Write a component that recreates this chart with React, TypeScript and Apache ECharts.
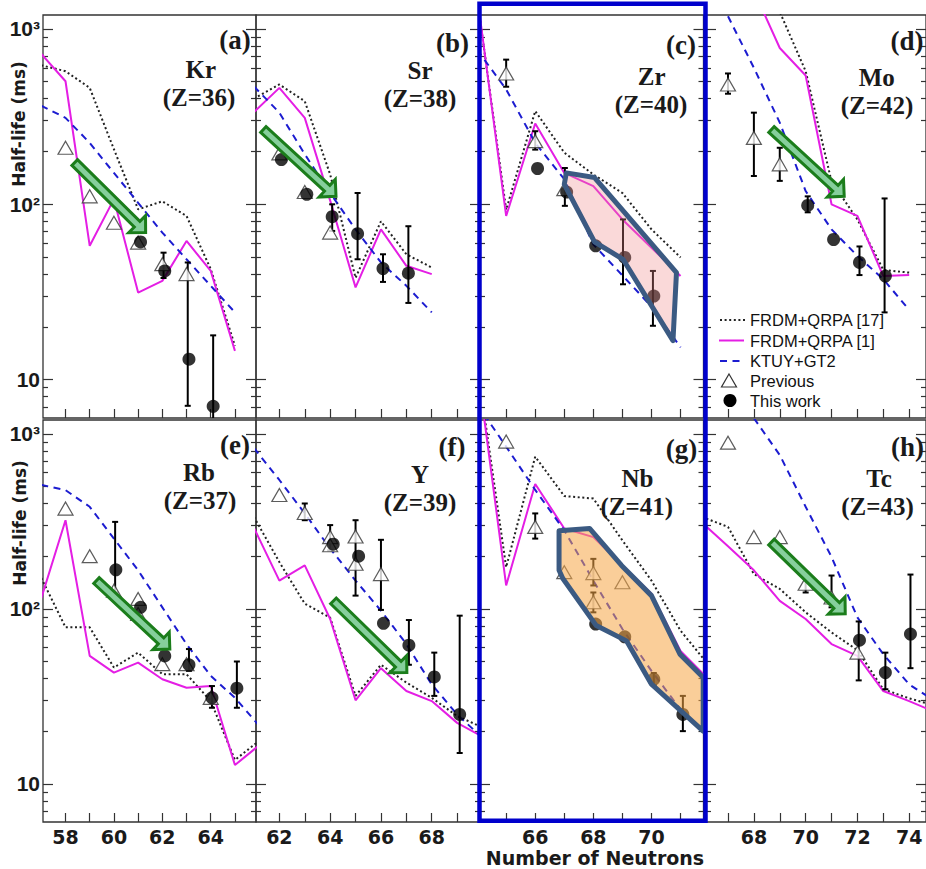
import React, { useEffect, useRef } from "react";
import * as echarts from "echarts";

// ---------------- data (N, half-life in ms) ----------------
// (a) Kr
const KR_FRDM17 = [[57, 620], [58, 574], [59, 461], [60, 206], [61, 93.6], [62, 104], [63, 85.8], [64, 42.7], [65, 15.6]];
const KR_FRDM1 = [[57, 720], [58, 503], [59, 58], [60, 107], [61, 31.4], [62, 36.6], [63, 61.8], [64, 41.7], [65, 14.6]];
const KR_KTUY = [[57, 365], [58, 311], [59, 224], [60, 151], [61, 102], [62, 69], [63, 48.6], [64, 34.3], [65, 24.2]];
const KR_PREV = [[58, 210], [59, 111], [60, 78.5], [61, 60.5], [62, 45.6], [63, 40]];
const KR_THIS = [[61.1, 61], [62.1, 41.7], [63.1, 13.1], [64.1, 7.05]];
const KR_ERR = [[62.05, 38, 53], [63.05, 7.1, 46.6], [64.1, 5, 17.9]];
const KR_ARROW = [58.38, 173, 61.31, 69];

// (b) Sr
const SR_FRDM17 = [[61, 400], [62, 482], [63, 387], [64, 148], [65, 38.1], [66, 80], [67, 51.9], [68, 43.6]];
const SR_FRDM1 = [[61, 335], [62, 461], [63, 311], [64, 105], [65, 33.6], [66, 72], [67, 44.6], [68, 40]];
const SR_KTUY = [[61, 470], [62, 333], [63, 193], [64, 116], [65, 72], [66, 46.6], [67, 34.3], [68, 24.2]];
const SR_PREV = [[62, 195], [63, 117.5], [64, 69]];
const SR_THIS = [[62.08, 180], [63.08, 114], [64.08, 85], [65.08, 68], [66.08, 43], [67.08, 40.5]];
const SR_ERR = [[64.08, 70.5, 100], [65.08, 48.6, 116], [66.08, 36.1, 51.9], [67.08, 27.4, 75]];
const SR_ARROW = [61.37, 267, 64.23, 111];

// (c) Zr
const ZR_FRDM17 = [[64, 1500], [65, 93], [66, 340], [67, 197], [68, 148], [69, 116], [70, 72], [71, 49.8]];
const ZR_FRDM1 = [[64, 1550], [65, 85.8], [66, 289], [67, 151], [68, 127], [69, 82], [70, 56.6], [71, 39]];
const ZR_KTUY = [[64, 760], [65, 452], [66, 224], [67, 139], [68, 59], [69, 39.3], [70, 26.1], [71, 15.3]];
const ZR_PREV = [[65, 557], [66, 229], [67, 122]];
const ZR_THIS = [[66.08, 160], [67.08, 117.5], [68.08, 58], [69.08, 49.8], [70.08, 30]];
const ZR_ERR = [[65, 468, 668], [66, 205, 261], [67.02, 98, 161], [69.02, 35, 82], [70.05, 20.3, 41.7]];
const ZR_REGION = [[67.07, 151], [68.04, 142], [70.86, 40.8], [70.74, 16.7], [69.02, 48.6], [68.04, 61], [67.0, 130]];

// (d) Mo
const MO_FRDM17 = [[68, 2500], [69, 1250], [70, 574], [71, 135], [72, 82], [73, 42.3], [74, 40.8]];
const MO_FRDM1 = [[68, 1650], [69, 778], [70, 542], [71, 100], [72, 86], [73, 39], [74, 39.5]];
const MO_KTUY = [[67, 1180], [68, 600], [69, 292], [70, 119], [71, 72], [72, 50.8], [73, 37.4], [74, 25]];
const MO_PREV = [[67, 482], [68, 239], [69, 169]];
const MO_THIS = [[70.08, 98.6], [71.08, 63], [72.08, 46.6], [73.08, 39]];
const MO_ERR = [[67, 427, 557], [68, 145, 333], [69, 136, 210], [70.08, 90, 111], [72.08, 39.5, 57.5], [73.05, 24.2, 108]];
const MO_ARROW = [68.68, 267, 71.49, 111];

// (e) Rb
const RB_FRDM17 = [[57, 150], [58, 78.4], [59, 78.4], [60, 46.2], [61, 56.2], [62, 42.3], [63, 42.3], [64, 29.7], [65, 13.7], [66, 17.6]];
const RB_FRDM1 = [[57, 115], [58, 321], [59, 53.8], [60, 43.2], [61, 49.3], [62, 39.6], [63, 35.4], [64, 36.2], [65, 12.8], [66, 16.6]];
const RB_KTUY = [[57, 511], [58, 477], [59, 383], [60, 252], [61, 166], [62, 102], [63, 62.8], [64, 41.4], [65, 31], [66, 21.5]];
const RB_PREV = [[58, 374], [59, 200], [60, 127], [61, 114], [61, 93.5], [62, 48.3], [63, 48.3], [64, 31]];
const RB_THIS = [[60.08, 167], [61.1, 102], [62.1, 53.8], [63.1, 47.9], [64.05, 31], [65.08, 35.2]];
const RB_ERR = [[60.05, 124, 314], [63.1, 44.2, 58.9], [64.05, 27.2, 36.2], [65.08, 27.2, 50]];
const RB_ARROW = [59.28, 145, 62.31, 58.9];

// (f) Y
const Y_FRDM17 = [[61, 335], [62, 185], [63, 107], [64, 89], [65, 31.8], [66, 47.9], [67, 37.9], [68, 31], [69, 24.4], [70, 21]];
const Y_FRDM1 = [[61, 290], [62, 145], [63, 177], [64, 87.5], [65, 30], [66, 45.8], [67, 33.9], [68, 29.7], [69, 22.3], [70, 18.6]];
const Y_KTUY = [[61, 830], [62, 545], [63, 351], [64, 221], [65, 145], [66, 97.7], [67, 62.9], [68, 37], [69, 24.9], [70, 18.3]];
const Y_PREV = [[62, 447], [63, 353], [64, 257], [64, 231], [65, 259], [65, 181], [66, 158]];
const Y_THIS = [[64.12, 234], [65.12, 200], [66.1, 82.6], [67.1, 62], [68.1, 40.8], [69.1, 24.9]];
const Y_ERR = [[63, 321, 400], [64, 216, 301], [65, 119, 321], [66, 98.6, 248], [67.1, 47.9, 86.3], [68.1, 31.8, 56.2], [69.1, 15, 91.4]];
const Y_ARROW = [64.13, 111, 67.02, 43.2];

// (g) Nb
const NB_FRDM17 = [[64, 2500], [65, 173], [66, 741], [67, 441], [68, 427], [69, 246], [70, 145], [71, 75], [72, 47]];
const NB_FRDM1 = [[64, 2500], [65, 136], [66, 517], [67, 288], [68, 257], [69, 177], [70, 122], [71, 57.5], [72, 39]];
const NB_KTUY = [[64, 1480], [65, 845], [66, 478], [67, 281], [68, 145], [69, 76.7], [70, 44.2], [71, 26.6], [72, 18]];
const NB_PREV = [[65, 903], [66, 294], [67, 162], [68, 160], [68, 109], [69, 142]];
const NB_THIS = [[68.08, 81.9], [69.08, 69.2], [70.08, 39.6], [71.08, 24.9]];
const NB_ERR = [[66, 252, 351], [68, 136, 193], [68, 95.5, 124], [70.08, 36.5, 43], [71.08, 20, 31.8]];
const NB_REGION = [[66.82, 279], [67.87, 288], [68.97, 177], [70.0, 119], [70.98, 55.1], [71.78, 40.5], [71.78, 20], [70.0, 37.1], [69.14, 65.6], [68.1, 80.2], [66.95, 149], [66.82, 166]];

// (h) Tc
const TC_FRDM17 = [[66, 335], [67, 294], [68, 158], [69, 130], [70, 95.5], [71, 73.3], [72, 58], [73, 34.7], [74, 30.8], [75, 28]];
const TC_FRDM1 = [[66, 310], [67, 228], [68, 166], [69, 111], [70, 87.5], [71, 62.9], [72, 53.8], [73, 33.9], [74, 29.7], [75, 25.7]];
const TC_KTUY = [[68, 1230], [69, 757], [70, 383], [71, 198], [72, 89.3], [73, 55], [74, 37], [75, 29.7]];
const TC_PREV = [[67, 891], [68, 257], [69, 257], [70, 139], [71, 116], [72, 56.2]];
const TC_THIS = [[72.08, 66.2], [73.08, 43.2], [74.05, 71.8]];
const TC_ERR = [[70, 124, 152], [71, 102, 155], [72.05, 39, 84.7], [73.08, 34.7, 56.2], [74.05, 45.8, 157]];
const TC_ARROW = [68.68, 241, 71.53, 93.6];

// axes
const COL_X_RANGE = [[57.07, 65.87], [61.08, 69.9], [64.1, 71.79], [66.15, 74.65]];
const Y_RANGE = [6.05, 1200];
const Y_MAJOR = [10, 100, 1000];
const Y_MINOR = [7, 8, 9, 20, 30, 40, 50, 60, 70, 80, 90, 200, 300, 400, 500, 600, 700, 800, 900];
const LEGEND_NAMES = ["FRDM+QRPA [17]", "FRDM+QRPA [1]", "KTUY+GT2", "Previous", "This work"];

// layout (pixels)
const COL_LEFT = [43, 256, 480, 706];
const COL_WIDTH = [213, 224, 223.5, 220];
const ROW_TOP = [15, 420];
const ROW_HEIGHT = [403, 402];

const C_DOT = "#222222";
const C_MAG = "#e41ee4";
const C_BLUE = "#1c1cd0";

const PANELS = [
  { row: 0, col: 0, frdm17: KR_FRDM17, frdm1: KR_FRDM1, ktuy: KR_KTUY, prev: KR_PREV, cur: KR_THIS, err: KR_ERR, arrow: KR_ARROW, region: null as any, fill: "", tag: "(a)", el: "Kr", z: "(Z=36)", tagP: [235, 39.5], elP: [200.7, 71], zP: [199, 96] },
  { row: 0, col: 1, frdm17: SR_FRDM17, frdm1: SR_FRDM1, ktuy: SR_KTUY, prev: SR_PREV, cur: SR_THIS, err: SR_ERR, arrow: SR_ARROW, region: null as any, fill: "", tag: "(b)", el: "Sr", z: "(Z=38)", tagP: [452.5, 43], elP: [420, 73], zP: [420, 96] },
  { row: 0, col: 2, frdm17: ZR_FRDM17, frdm1: ZR_FRDM1, ktuy: ZR_KTUY, prev: ZR_PREV, cur: ZR_THIS, err: ZR_ERR, arrow: null as any, region: ZR_REGION, fill: "rgba(240,140,140,0.33)", tag: "(c)", el: "Zr", z: "(Z=40)", tagP: [681, 44.5], elP: [651.7, 79], zP: [651, 102] },
  { row: 0, col: 3, frdm17: MO_FRDM17, frdm1: MO_FRDM1, ktuy: MO_KTUY, prev: MO_PREV, cur: MO_THIS, err: MO_ERR, arrow: MO_ARROW, region: null as any, fill: "", tag: "(d)", el: "Mo", z: "(Z=42)", tagP: [907, 41], elP: [876.7, 79], zP: [877, 103] },
  { row: 1, col: 0, frdm17: RB_FRDM17, frdm1: RB_FRDM1, ktuy: RB_KTUY, prev: RB_PREV, cur: RB_THIS, err: RB_ERR, arrow: RB_ARROW, region: null as any, fill: "", tag: "(e)", el: "Rb", z: "(Z=37)", tagP: [235, 445], elP: [199, 473.3], zP: [200, 499.5] },
  { row: 1, col: 1, frdm17: Y_FRDM17, frdm1: Y_FRDM1, ktuy: Y_KTUY, prev: Y_PREV, cur: Y_THIS, err: Y_ERR, arrow: Y_ARROW, region: null as any, fill: "", tag: "(f)", el: "Y", z: "(Z=39)", tagP: [452, 447], elP: [420, 476], zP: [420, 500] },
  { row: 1, col: 2, frdm17: NB_FRDM17, frdm1: NB_FRDM1, ktuy: NB_KTUY, prev: NB_PREV, cur: NB_THIS, err: NB_ERR, arrow: null as any, region: NB_REGION, fill: "rgba(245,165,70,0.55)", tag: "(g)", el: "Nb", z: "(Z=41)", tagP: [681.5, 449], elP: [637.5, 480], zP: [636.7, 505] },
  { row: 1, col: 3, frdm17: TC_FRDM17, frdm1: TC_FRDM1, ktuy: TC_KTUY, prev: TC_PREV, cur: TC_THIS, err: TC_ERR, arrow: TC_ARROW, region: null as any, fill: "", tag: "(h)", el: "Tc", z: "(Z=43)", tagP: [907.5, 447], elP: [879, 479], zP: [877.5, 505] },
];

function serifText(text: string, x: number, y: number, size: number) {
  return {
    type: "text",
    x,
    y,
    z: 50,
    style: {
      text,
      font: `bold ${size}px "Liberation Serif"`,
      fill: "#1a1a1a",
      textAlign: "center",
      textVerticalAlign: "middle",
      align: "center",
      verticalAlign: "middle",
    },
  };
}

function buildOption() {
  const grid: any[] = [];
  const xAxis: any[] = [];
  const yAxis: any[] = [];
  const series: any[] = [];
  const graphic: any[] = [];
  const tickStyle = { color: "#333", width: 1.2 };

  PANELS.forEach((p, gi) => {
    grid.push({
      left: COL_LEFT[p.col],
      top: ROW_TOP[p.row],
      width: COL_WIDTH[p.col],
      height: ROW_HEIGHT[p.row],
      show: true,
      borderColor: "#333",
      borderWidth: 1.3,
      backgroundColor: "transparent",
    });
    const [xmin, xmax] = COL_X_RANGE[p.col];
    const ints: number[] = [];
    for (let n = Math.ceil(xmin); n <= Math.floor(xmax); n++) ints.push(n);
    xAxis.push({
      type: "value",
      gridIndex: gi,
      position: "bottom",
      min: xmin,
      max: xmax,
      axisLine: { show: false, onZero: false },
      splitLine: { show: false },
      axisTick: { show: true, inside: true, length: 9, customValues: ints, lineStyle: tickStyle },
      axisLabel: {
        show: p.row === 1,
        customValues: ints.filter((n) => n % 2 === 0),
        margin: 5,
        fontFamily: "DejaVu Sans",
        fontWeight: "bold",
        fontSize: 19,
        color: "#1a1a1a",
        formatter: (v: number) => String(Math.round(v)),
      },
    });
    const yi = yAxis.length;
    const base = {
      type: "log",
      logBase: 10,
      gridIndex: gi,
      min: Y_RANGE[0],
      max: Y_RANGE[1],
      axisLine: { show: false, onZero: false },
      splitLine: { show: false },
    };
    yAxis.push({
      ...base,
      position: "left",
      axisTick: { show: true, inside: true, length: 10, customValues: Y_MAJOR, lineStyle: tickStyle },
      axisLabel: {
        show: p.col === 0,
        customValues: Y_MAJOR,
        margin: 3,
        fontFamily: "Liberation Sans",
        fontWeight: "bold",
        fontSize: 21,
        color: "#1a1a1a",
        formatter: (v: number) => {
          const e = Math.round(Math.log10(v));
          return e === 3 ? "10³" : e === 2 ? "10²" : "10";
        },
      },
    });
    yAxis.push({
      ...base,
      position: "left",
      axisTick: { show: true, inside: true, length: 5, customValues: Y_MINOR, lineStyle: tickStyle },
      axisLabel: { show: false },
    });
    yAxis.push({
      ...base,
      position: "right",
      axisTick: { show: true, inside: true, length: 10, customValues: Y_MAJOR, lineStyle: tickStyle },
      axisLabel: { show: false },
    });
    yAxis.push({
      ...base,
      position: "right",
      axisTick: { show: true, inside: true, length: 5, customValues: Y_MINOR, lineStyle: tickStyle },
      axisLabel: { show: false },
    });

    const common = { xAxisIndex: gi, yAxisIndex: yi, silent: true };
    series.push({ ...common, type: "line", name: LEGEND_NAMES[0], data: p.frdm17, symbol: "none", clip: true, z: 2, lineStyle: { color: C_DOT, width: 2, type: [2, 2.6] } });
    series.push({ ...common, type: "line", name: LEGEND_NAMES[1], data: p.frdm1, symbol: "none", clip: true, z: 2, lineStyle: { color: C_MAG, width: 2 } });
    series.push({ ...common, type: "line", name: LEGEND_NAMES[2], data: p.ktuy, symbol: "none", clip: true, z: 2, lineStyle: { color: C_BLUE, width: 2, type: [7, 5.5] } });
    series.push({
      ...common,
      type: "custom",
      name: "err",
      data: p.err,
      clip: true,
      z: 3,
      encode: { x: 0, y: [1, 2] },
      renderItem: (params: any, api: any) => {
        const x = api.value(0);
        const p1 = api.coord([x, api.value(1)]);
        const p2 = api.coord([x, api.value(2)]);
        const c = 3;
        const st = { stroke: "#000", lineWidth: 2 };
        return {
          type: "group",
          children: [
            { type: "line", shape: { x1: p1[0], y1: p1[1], x2: p2[0], y2: p2[1] }, style: st },
            { type: "line", shape: { x1: p1[0] - c, y1: p1[1], x2: p1[0] + c, y2: p1[1] }, style: st },
            { type: "line", shape: { x1: p2[0] - c, y1: p2[1], x2: p2[0] + c, y2: p2[1] }, style: st },
          ],
        };
      },
    });
    series.push({ ...common, type: "scatter", name: LEGEND_NAMES[3], data: p.prev, symbol: "triangle", symbolSize: [15, 13], z: 3, itemStyle: { color: "#ffffff", borderColor: "#333", borderWidth: 1.2 } });
    series.push({ ...common, type: "scatter", name: LEGEND_NAMES[4], data: p.cur, symbol: "circle", symbolSize: 13, z: 4, itemStyle: { color: "#000000" } });

    if (p.region) {
      const region = p.region;
      const fill = p.fill;
      series.push({
        ...common,
        type: "custom",
        name: "region",
        data: region,
        clip: true,
        z: 5,
        renderItem: (params: any, api: any) => {
          if (params.dataIndex !== 0) return null;
          const pts = region.map((q: number[]) => api.coord(q));
          return { type: "polygon", shape: { points: pts }, style: { fill, stroke: "#3b5a82", lineWidth: 5, lineJoin: "round" } };
        },
      });
    }
    if (p.arrow) {
      series.push({
        ...common,
        type: "custom",
        name: "arrow",
        data: [p.arrow],
        clip: false,
        z: 6,
        encode: { x: [0, 2], y: [1, 3] },
        renderItem: (params: any, api: any) => {
          const s = api.coord([api.value(0), api.value(1)]);
          const t = api.coord([api.value(2), api.value(3)]);
          const dx = t[0] - s[0];
          const dy = t[1] - s[1];
          const L = Math.hypot(dx, dy);
          const ux = dx / L, uy = dy / L;
          const nx = -uy, ny = ux;
          const w = 4, hw = 12, hl = 12;
          const bx = t[0] - ux * hl, by = t[1] - uy * hl;
          const pts = [
            [s[0] + nx * w, s[1] + ny * w],
            [bx + nx * w, by + ny * w],
            [bx + nx * hw, by + ny * hw],
            [t[0], t[1]],
            [bx - nx * hw, by - ny * hw],
            [bx - nx * w, by - ny * w],
            [s[0] - nx * w, s[1] - ny * w],
          ];
          return { type: "polygon", shape: { points: pts }, style: { fill: "#86cf9c", stroke: "#1b7d1b", lineWidth: 3, lineJoin: "miter" } };
        },
      });
    }

    graphic.push(serifText(p.tag, p.tagP[0], p.tagP[1], 27));
    // element symbol and (Z=..): keep the midpoint, space the two lines so they do not overlap
    const mid = (p.elP[1] + p.zP[1]) / 2;
    graphic.push(serifText(p.el, p.elP[0], mid - 14, 25));
    graphic.push(serifText(p.z, p.zP[0], mid + 14, 25));
  });

  // axis titles
  const axisFont = 'bold 17px "DejaVu Sans"';
  [124, 523].forEach((yc, i) => {
    graphic.push({
      type: "text",
      x: i === 0 ? 18.5 : 19.5,
      y: yc,
      rotation: Math.PI / 2,
      style: { text: "Half-life (ms)", font: axisFont, fill: "#1a1a1a", textAlign: "center", textVerticalAlign: "middle", align: "center", verticalAlign: "middle" },
    });
  });
  graphic.push({
    type: "text",
    x: 595,
    y: 858,
    style: { text: "Number of Neutrons", font: 'bold 19px "DejaVu Sans"', fill: "#1a1a1a", textAlign: "center", textVerticalAlign: "middle", align: "center", verticalAlign: "middle" },
  });

  // legend (inside panel d)
  const ly = [320, 340.5, 361, 380.5, 400.5];
  graphic.push({ type: "line", z: 60, shape: { x1: 720, y1: ly[0], x2: 745, y2: ly[0] }, style: { stroke: C_DOT, lineWidth: 2, lineDash: [2, 2.6] } });
  graphic.push({ type: "line", z: 60, shape: { x1: 719, y1: ly[1], x2: 744, y2: ly[1] }, style: { stroke: C_MAG, lineWidth: 2 } });
  graphic.push({ type: "line", z: 60, shape: { x1: 720, y1: ly[2], x2: 745, y2: ly[2] }, style: { stroke: C_BLUE, lineWidth: 2, lineDash: [7, 5.5] } });
  graphic.push({ type: "polygon", z: 60, shape: { points: [[729, ly[3] - 6.5], [736.5, ly[3] + 6.5], [721.5, ly[3] + 6.5]] }, style: { fill: "#fff", stroke: "#333", lineWidth: 1.2 } });
  graphic.push({ type: "circle", z: 60, shape: { cx: 730, cy: ly[4], r: 6.5 }, style: { fill: "#000" } });
  LEGEND_NAMES.forEach((name, i) => {
    graphic.push({
      type: "text",
      z: 60,
      x: 750,
      y: ly[i],
      style: { text: name, font: '16.5px "Liberation Sans"', fill: "#111", textAlign: "left", textVerticalAlign: "middle", align: "left", verticalAlign: "middle" },
    });
  });

  // blue highlight frame around panels (c) and (g)
  graphic.push({ type: "rect", z: 100, shape: { x: 479.5, y: 3.8, width: 226, height: 817 }, style: { fill: "none", stroke: "#0000cc", lineWidth: 4.5 } });

  return { animation: false, grid, xAxis, yAxis, series, graphic };
}

export default function App() {
  const ref = useRef<HTMLDivElement>(null);
  useEffect(() => {
    if (!ref.current) return;
    const chart = echarts.init(ref.current, undefined, { renderer: "svg" });
    chart.setOption(buildOption() as any);
    return () => chart.dispose();
  }, []);
  return <div ref={ref} style={{ position: "absolute", left: 0, top: 0, width: 926, height: 869, background: "#fff" }} />;
}
